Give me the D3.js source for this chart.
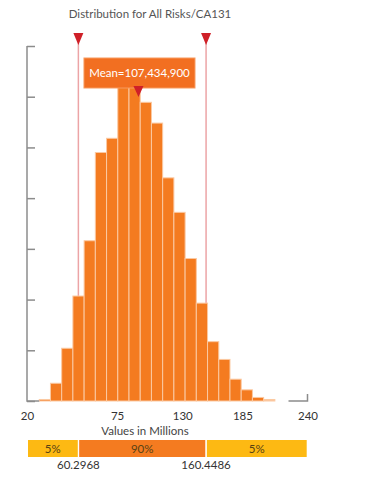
<!DOCTYPE html>
<html><head><meta charset="utf-8">
<script src="https://cdn.jsdelivr.net/npm/d3@7/dist/d3.min.js"></script>
<style>body{margin:0;background:#fff}svg{display:block}text{font-family:Lato,"Open Sans",sans-serif}</style>
</head><body><svg id="c" width="376" height="479"></svg>
<script>
// ---- data ----
const title = "Distribution for All Risks/CA131";
const binEdges = [29.6, 38.4, 47.2, 56.0, 64.8, 73.6, 82.4, 91.2, 100.0, 108.8, 117.6, 126.4, 135.2, 144.0, 152.8, 161.6, 170.4, 179.2, 188.0, 196.8, 205.6, 214.4];
const binHeights = [0.03, 0.35, 1.04, 2.07, 3.16, 4.90, 5.18, 6.30, 6.40, 5.89, 5.48, 4.40, 3.72, 2.81, 1.93, 1.17, 0.82, 0.43, 0.22, 0.07, 0.03];
const xTicks = [20, 75, 130, 185, 240];
const yTicks = [0, 1, 2, 3, 4, 5, 6, 7];
const meanValue = 107.4349;
const meanLabel = "Mean=107,434,900";
const pctValues = [60.2968, 160.4486];
const pctLabels = ["60.2968", "160.4486"];
const bandLabels = ["5%", "90%", "5%"];
const xTitle = "Values in Millions";

// ---- layout ----
const svg = d3.select("#c");
const x = d3.scaleLinear().domain([20, 240]).range([27, 307.5]);
const y = d3.scaleLinear().domain([0, 7]).range([401, 46]);
const orange = "#f47b20", yellow = "#fdb913", red = "#cf2028";

svg.append("text").attr("x", 150).attr("y", 18).attr("text-anchor", "middle")
  .attr("font-size", 11.5).attr("fill", "#555").text(title);

// percentile lines (behind bars)
svg.selectAll("line.pct").data(pctValues).join("line").attr("class", "pct")
  .attr("x1", d => x(d)).attr("x2", d => x(d)).attr("y1", 40).attr("y2", y(0))
  .attr("stroke", "#eca4a6").attr("stroke-width", 1.5);
svg.selectAll("path.ptri").data(pctValues).join("path").attr("class", "ptri")
  .attr("d", d => `M${x(d) - 5},33 L${x(d) + 5},33 L${x(d)},45 Z`).attr("fill", red);

// bars
svg.selectAll("rect.bar").data(binHeights).join("rect").attr("class", "bar")
  .attr("x", (d, i) => x(binEdges[i])).attr("width", (d, i) => x(binEdges[i + 1]) - x(binEdges[i]))
  .attr("y", d => y(d)).attr("height", d => y(0) - y(d))
  .attr("fill", (d, i) => i === binHeights.length - 1 ? "#fbc49a" : orange)
  .attr("stroke", "#fbc9a2").attr("stroke-width", 1);

// y axis
const yAxis = svg.append("g").attr("transform", "translate(27,0)")
  .call(d3.axisRight(y).tickValues(yTicks).tickSize(8).tickFormat(""));
yAxis.select(".domain").remove();
yAxis.selectAll("line").attr("stroke", "#8c8c8c").attr("stroke-width", 1.5);
svg.append("line").attr("x1", 27).attr("x2", 27).attr("y1", y(7)).attr("y2", y(0) + 0.75)
  .attr("stroke", "#8c8c8c").attr("stroke-width", 1.5);
svg.append("line").attr("x1", 27).attr("x2", x(binEdges[0])).attr("y1", y(0)).attr("y2", y(0))
  .attr("stroke", "#8c8c8c").attr("stroke-width", 1.5);
// right bracket
svg.append("path").attr("d", `M${x(xTicks[4]) - 19},${y(0)} L${x(xTicks[4])},${y(0)} L${x(xTicks[4])},${y(0) - 7}`)
  .attr("fill", "none").attr("stroke", "#8c8c8c").attr("stroke-width", 1.5);

// x axis labels
const labelNudge = {75: 20, 130: 15, 185: 5};
const xAxis = svg.append("g").attr("transform", `translate(0,${y(0)})`)
  .call(d3.axisBottom(x).tickValues(xTicks).tickSize(0).tickPadding(11).tickFormat(d3.format("d")));
xAxis.select(".domain").remove();
xAxis.selectAll("text").attr("font-size", 11.5).attr("fill", "#333")
  .attr("font-family", "Lato,sans-serif").attr("dx", d => labelNudge[d] || 0);

svg.append("text").attr("x", 145).attr("y", 435).attr("text-anchor", "middle")
  .attr("font-size", 11.5).attr("fill", "#444").text(xTitle);

// mean marker
const mx = x(meanValue);
svg.append("rect").attr("x", mx - 54.5).attr("y", 58).attr("width", 111).attr("height", 30)
  .attr("fill", "#f26f21").attr("stroke", "#f79a5e").attr("stroke-width", 1);
svg.append("text").attr("x", mx + 1).attr("y", 77).attr("text-anchor", "middle")
  .attr("font-size", 11.5).attr("fill", "#fff").text(meanLabel);
svg.append("path").attr("d", `M${mx - 5},86 L${mx + 5},86 L${mx},97 Z`).attr("fill", red);

// percentile band
const bandEdges = [20, pctValues[0], pctValues[1], 240];
const bands = bandLabels.map((l, i) => ({l, a: bandEdges[i], b: bandEdges[i + 1], c: i === 1 ? orange : yellow}));
svg.selectAll("rect.band").data(bands).join("rect").attr("class", "band")
  .attr("x", d => x(d.a) + (d.a === 20 ? 1 : 0.8)).attr("width", d => x(d.b) - x(d.a) - 1.6)
  .attr("y", 440).attr("height", 17).attr("fill", d => d.c);
svg.selectAll("text.band").data(bands).join("text").attr("class", "band")
  .attr("x", d => (x(d.a) + x(d.b)) / 2).attr("y", 453).attr("text-anchor", "middle")
  .attr("font-size", 11.5).attr("fill", "#574214").text(d => d.l);
svg.selectAll("text.pv").data(pctValues).join("text").attr("class", "pv")
  .attr("x", d => x(d)).attr("y", 469).attr("text-anchor", "middle")
  .attr("font-size", 11.5).attr("fill", "#333").text((d, i) => pctLabels[i]);
</script></body></html>
